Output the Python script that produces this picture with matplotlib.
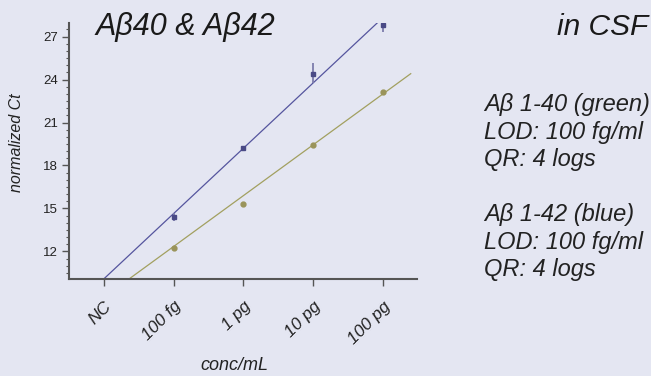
import matplotlib
matplotlib.use("Agg")
import matplotlib.pyplot as plt
import numpy as np
from matplotlib.ticker import MultipleLocator

plt.rcParams['font.family'] = ['Liberation Sans', 'DejaVu Sans']

categories = ["NC", "100 fg", "1 pg", "10 pg", "100 pg"]
blue_x = [1, 2, 3, 4]
blue_y = [14.41, 19.2, 24.39, 27.84]
blue_err_lo = [0.3, 0.1, 0.65, 0.5]
blue_err_hi = [0.3, 0.1, 0.8, 0.3]
green_x = [1, 2, 3, 4]
green_y = [12.21, 15.3, 19.4, 23.11]
# fitted lines (slope, intercept)
blue_fit = (4.56, 10.08)
green_fit = (3.55, 8.79)

bg = "#e4e6f2"
blue_c = "#4a4a86"
blue_line = "#55559e"
blue_err = "#7c7cac"
green_c = "#9a945a"
green_line = "#a2a060"
spine_c = "#555555"

fig = plt.figure(figsize=(6.51, 3.76), dpi=100, facecolor=bg)
ax = fig.add_axes([69/651, 1-279/376, (417-69)/651, (279-23)/376], facecolor=bg)

xx = np.linspace(0, 4.4, 200)
ax.plot(xx, blue_fit[0]*xx + blue_fit[1], color=blue_line, lw=0.9)
ax.plot(xx, green_fit[0]*xx + green_fit[1], color=green_line, lw=0.9)

ax.errorbar(blue_x, blue_y, yerr=[blue_err_lo, blue_err_hi], fmt='s', ms=3.5,
            color=blue_c, ecolor=blue_err, elinewidth=1.3, capsize=0, zorder=3)
ax.plot(green_x, green_y, 'o', ms=3.5, color=green_c, zorder=3)

ax.set_xlim(-0.5, 4.49)
ax.set_ylim(10.07, 27.95)
ax.set_xticks(range(len(categories)))
ax.set_xticklabels(categories, rotation=45, ha='right', rotation_mode='anchor',
                   fontsize=12.5, style='italic', color='#222222')
ax.set_yticks([12, 15, 18, 21, 24, 27])
ax.yaxis.set_minor_locator(MultipleLocator(0.5))
ax.tick_params(axis='y', which='major', length=5, width=1, color=spine_c,
               labelsize=9.5, labelcolor='#222222', pad=3)
ax.tick_params(axis='y', which='minor', length=2.5, width=0.8, color=spine_c)
ax.tick_params(axis='x', which='major', length=5, width=1, color=spine_c, pad=9)
for s in ['top', 'right']:
    ax.spines[s].set_visible(False)
for s in ['left', 'bottom']:
    ax.spines[s].set_color(spine_c)
    ax.spines[s].set_linewidth(1.5)

fig.text(17/651, 1-143/376, "normalized Ct", rotation=90, ha='center', va='center',
         fontsize=11.5, style='italic', color='#222222')
fig.text(234/651, 1-366/376, "conc/mL", ha='center', va='center',
         fontsize=13, style='italic', color='#222222')

fig.text(95/651, 1-27/376, "A\u03b240 & A\u03b242", ha='left', va='center',
         fontsize=22, style='italic', color='#1a1a1a')
fig.text(648/651, 1-27/376, "in CSF", ha='right', va='center',
         fontsize=21.5, style='italic', color='#1a1a1a')

block = "A\u03b2 1-40 (green)\nLOD: 100 fg/ml\nQR: 4 logs\n\nA\u03b2 1-42 (blue)\nLOD: 100 fg/ml\nQR: 4 logs"
fig.text(484/651, 1-93/376, block, ha='left', va='top', fontsize=17,
         style='italic', color='#222222', linespacing=1.25)

fig.savefig("out.png", dpi=100, facecolor=bg)
